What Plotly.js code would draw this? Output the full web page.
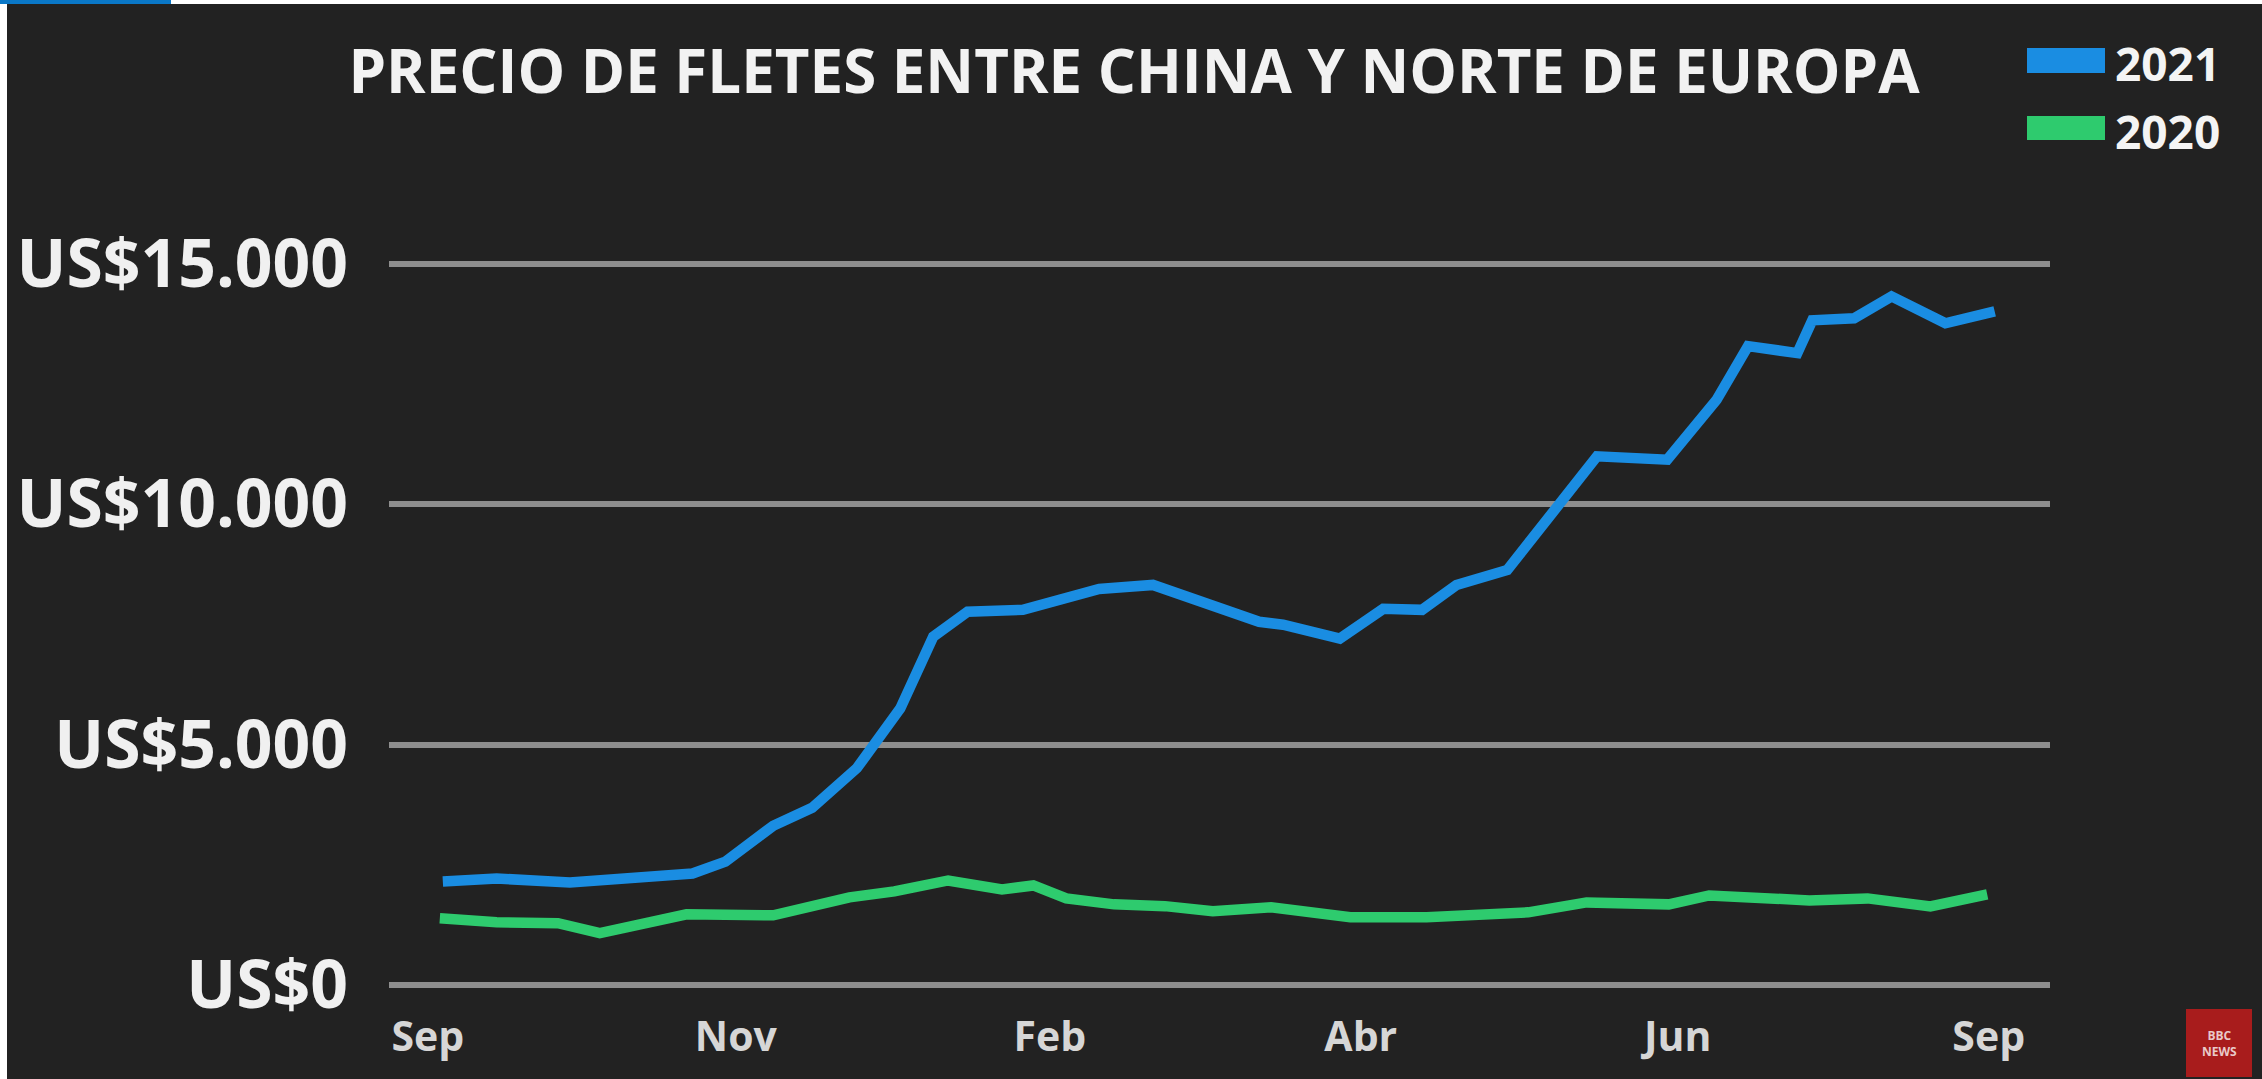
<!DOCTYPE html>
<html>
<head>
<meta charset="utf-8">
<script src="https://cdn.plot.ly/plotly-3.0.1.min.js"></script>
<style>
  html, body { margin: 0; padding: 0; background: #ffffff; }
  #chart { width: 2262px; height: 1079px; }
</style>
</head>
<body>
<div id="chart"></div>
<script>
// ---------- DATA ----------
const chartTitle = 'PRECIO DE FLETES ENTRE CHINA Y NORTE DE EUROPA';
const seriesNames = ['2021', '2020'];
const xTickLabels = ['Sep', 'Nov', 'Feb', 'Abr', 'Jun', 'Sep'];
const xTickWeeks = [-0.4, 9.9, 20.4, 30.8, 41.4, 51.8];
const yTickValues = [0, 5000, 10000, 15000];
const yTickLabels = ['US$0', 'US$5.000', 'US$10.000', 'US$15.000'];

// 2021 series (blue): week index, US$ per 40ft container
const weeks2021 = [0.1, 1.9, 4.35, 6.9, 8.45, 9.55, 11.15, 12.45, 13.95, 15.4, 16.5, 17.65, 19.5, 22.05, 23.85, 27.4, 28.2, 30.1, 31.55, 32.85, 34.0, 35.7, 38.7, 41.05, 42.7, 43.75, 45.4, 45.9, 47.3, 48.55, 50.35, 52.0];
const freight2021 = [2153, 2215, 2133, 2215, 2319, 2567, 3313, 3685, 4513, 5756, 7246, 7764, 7805, 8240, 8323, 7557, 7495, 7205, 7826, 7805, 8323, 8634, 11000, 10930, 12174, 13292, 13147, 13830, 13872, 14327, 13768, 14017];

// 2020 series (green)
const weeks2020 = [0, 1.9, 3.95, 5.35, 8.25, 11.15, 13.7, 15.2, 17.0, 18.8, 19.85, 20.95, 22.55, 24.25, 25.85, 27.8, 30.45, 33.0, 36.4, 38.35, 41.1, 42.45, 45.8, 47.75, 49.85, 51.75];
const freight2020 = [1387, 1304, 1284, 1077, 1470, 1449, 1822, 1946, 2174, 1988, 2070, 1801, 1677, 1640, 1532, 1615, 1408, 1408, 1511, 1718, 1677, 1863, 1760, 1801, 1636, 1884];

// ---------- STYLE ----------
const W = 2262, H = 1079;
const M = { l: 389, r: 212, t: 240, b: 70 };
const colors = ['#1a8de2', '#2ecb6e'];
const FONT = '"Open Sans", "Noto Sans", sans-serif';

const plotW = W - M.l - M.r, plotH = H - M.t - M.b;
const px2x = px => (px - M.l) / plotW;
const px2y = py => (H - M.b - py) / plotH;

const traces = [
  { x: weeks2020, y: freight2020, name: seriesNames[1], type: 'scatter', mode: 'lines',
    line: { color: colors[1], width: 10.5, shape: 'linear' }, hoverinfo: 'skip', showlegend: false },
  { x: weeks2021, y: freight2021, name: seriesNames[0], type: 'scatter', mode: 'lines',
    line: { color: colors[0], width: 10.5, shape: 'linear' }, hoverinfo: 'skip', showlegend: false }
];

const shapes = [
  // white frame strips and blue accent bar at top-left
  { type: 'rect', xref: 'paper', yref: 'paper', x0: px2x(0), x1: px2x(7), y0: px2y(H), y1: px2y(0),
    fillcolor: '#ffffff', line: { width: 0 }, layer: 'below' },
  { type: 'rect', xref: 'paper', yref: 'paper', x0: px2x(0), x1: px2x(W), y0: px2y(4), y1: px2y(0),
    fillcolor: '#ffffff', line: { width: 0 }, layer: 'below' },
  { type: 'rect', xref: 'paper', yref: 'paper', x0: px2x(0), x1: px2x(171), y0: px2y(4), y1: px2y(0),
    fillcolor: '#0a78c8', line: { width: 0 }, layer: 'below' },
  // legend swatches
  { type: 'rect', xref: 'paper', yref: 'paper', x0: px2x(2027), x1: px2x(2105), y0: px2y(73), y1: px2y(48),
    fillcolor: colors[0], line: { width: 0 } },
  { type: 'rect', xref: 'paper', yref: 'paper', x0: px2x(2027), x1: px2x(2105), y0: px2y(140), y1: px2y(116),
    fillcolor: colors[1], line: { width: 0 } },
  // BBC News logo box
  { type: 'rect', xref: 'paper', yref: 'paper', x0: px2x(2186), x1: px2x(2252), y0: px2y(1077), y1: px2y(1009),
    fillcolor: '#a81c1c', line: { width: 0 } }
];

const annotations = [
  { text: seriesNames[0], xref: 'paper', yref: 'paper', x: px2x(2113), y: px2y(63),
    xanchor: 'left', yanchor: 'middle', showarrow: false,
    font: { family: FONT, size: 46, weight: 'bold', color: '#f4f4f4' } },
  { text: seriesNames[1], xref: 'paper', yref: 'paper', x: px2x(2113), y: px2y(131),
    xanchor: 'left', yanchor: 'middle', showarrow: false,
    font: { family: FONT, size: 46, weight: 'bold', color: '#f4f4f4' } },
  { text: 'BBC<br>NEWS', xref: 'paper', yref: 'paper', x: px2x(2219), y: px2y(1043),
    xanchor: 'center', yanchor: 'middle', showarrow: false,
    font: { family: FONT, size: 12, weight: 'bold', color: '#e9c9c9' } }
];

const layout = {
  width: W, height: H, autosize: false,
  margin: M,
  paper_bgcolor: '#222222',
  plot_bgcolor: '#222222',
  showlegend: false,
  title: {
    text: chartTitle,
    xref: 'container', yref: 'container',
    x: 1134 / W, y: 1 - 72 / H, xanchor: 'center', yanchor: 'middle',
    font: { family: FONT, size: 60, weight: 'bold', color: '#f2f2f2' }
  },
  xaxis: {
    range: [-1.7, 53.85],
    tickmode: 'array', tickvals: xTickWeeks, ticktext: xTickLabels,
    showgrid: false, zeroline: false, showline: false, ticks: '',
    ticklabelstandoff: 0,
    tickfont: { family: FONT, size: 41, weight: 'bold', color: '#d6d6d6' },
    fixedrange: true
  },
  yaxis: {
    range: [-500, 15500],
    tickmode: 'array', tickvals: yTickValues, ticktext: yTickLabels,
    showgrid: true, gridcolor: '#8e8e8e', gridwidth: 6,
    zeroline: false, showline: false, ticks: '',
    ticklabelstandoff: 40,
    tickfont: { family: FONT, size: 66, weight: 'bold', color: '#f0f0f0' },
    fixedrange: true
  },
  shapes: shapes,
  annotations: annotations
};

Plotly.newPlot('chart', traces, layout, { displayModeBar: false, staticPlot: true });
</script>
</body>
</html>
